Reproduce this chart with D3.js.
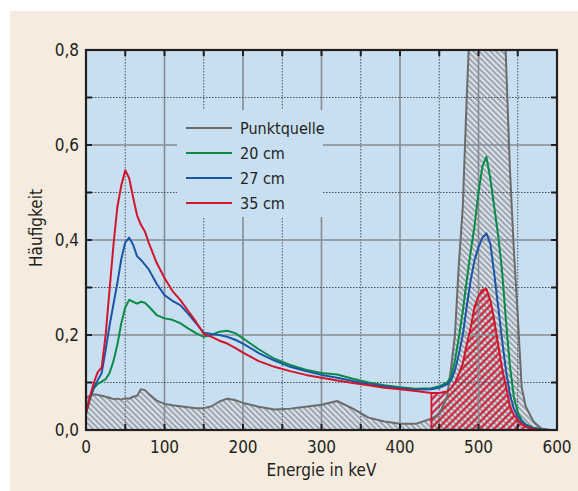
<!DOCTYPE html>
<html>
<head>
<meta charset="utf-8">
<script src="https://cdn.jsdelivr.net/npm/d3@7"></script>
<style>
  body { margin: 0; background: #fff; }
  svg text { font-family: "Liberation Sans Narrow", "DejaVu Sans Condensed", sans-serif; fill: #231f20; }
</style>
</head>
<body>
<svg id="chart" width="578" height="491"></svg>
<script>
// energy grid (keV) and read-off values
var energy = [0,5,10,15,20,25,30,35,40,45,50,55,60,65,70,75,80,90,100,110,120,130,140,150,160,170,180,190,200,220,240,260,280,300,320,340,360,380,400,420,440,450,460,465,470,475,480,485,490,495,500,505,510,515,520,525,530,535,540,545,550,555,560,570,580,590,600];

var punktquelle = [0.067,0.072,0.075,0.074,0.072,0.070,0.068,0.065,0.066,0.064,0.067,0.066,0.070,0.072,0.086,0.084,0.076,0.062,0.055,0.052,0.050,0.048,0.046,0.046,0.050,0.060,0.066,0.063,0.057,0.049,0.043,0.045,0.049,0.053,0.061,0.045,0.026,0.018,0.013,0.013,0.024,0.033,0.070,0.130,0.200,0.350,0.470,0.700,0.900,1.150,1.400,1.550,1.620,1.600,1.450,1.200,0.980,0.780,0.550,0.380,0.240,0.090,0.050,0.018,0.003,0,0];

var cm20 = [0.035,0.065,0.088,0.097,0.102,0.107,0.120,0.145,0.180,0.225,0.258,0.274,0.270,0.266,0.270,0.268,0.260,0.242,0.235,0.232,0.225,0.214,0.204,0.196,0.200,0.207,0.209,0.204,0.193,0.170,0.150,0.137,0.127,0.120,0.117,0.108,0.100,0.094,0.090,0.087,0.088,0.092,0.100,0.112,0.147,0.195,0.250,0.315,0.375,0.430,0.500,0.555,0.575,0.530,0.470,0.410,0.335,0.230,0.135,0.070,0.038,0.020,0.012,0.005,0.001,0,0];

var cm27 = [0.035,0.068,0.090,0.105,0.120,0.168,0.220,0.265,0.310,0.360,0.395,0.405,0.390,0.366,0.358,0.348,0.338,0.308,0.284,0.272,0.263,0.245,0.225,0.205,0.202,0.200,0.196,0.190,0.182,0.162,0.146,0.133,0.124,0.116,0.110,0.103,0.097,0.092,0.088,0.085,0.086,0.089,0.096,0.104,0.126,0.160,0.200,0.260,0.315,0.358,0.385,0.405,0.414,0.393,0.330,0.260,0.190,0.125,0.075,0.045,0.028,0.018,0.010,0.004,0.001,0,0];

var cm35 = [0.035,0.070,0.100,0.122,0.132,0.200,0.295,0.390,0.470,0.515,0.547,0.530,0.490,0.452,0.432,0.418,0.394,0.352,0.320,0.293,0.274,0.251,0.228,0.202,0.196,0.188,0.182,0.173,0.163,0.145,0.133,0.124,0.116,0.110,0.104,0.099,0.094,0.089,0.086,0.082,0.078,0.078,0.081,0.088,0.099,0.118,0.140,0.180,0.215,0.260,0.282,0.295,0.297,0.274,0.232,0.180,0.130,0.092,0.050,0.032,0.020,0.012,0.007,0.002,0,0,0];

var seriesNames = ["Punktquelle", "20 cm", "27 cm", "35 cm"];
var seriesColors = ["#6b6b6b", "#0b8a45", "#1b55a6", "#d1152b"];
var xTicks = [0, 100, 200, 300, 400, 500, 600];
var yTicks = [0, 0.2, 0.4, 0.6, 0.8];
var hatchStart = 440;

var svg = d3.select("#chart"),
    margin = {top: 50, right: 21, bottom: 61, left: 86},
    width = +svg.attr("width") - margin.left - margin.right,
    height = +svg.attr("height") - margin.top - margin.bottom;

// beige panel
svg.append("rect")
    .attr("x", 10).attr("y", 11)
    .attr("width", 568).attr("height", 480)
    .attr("fill", "#f5ebdf");

var defs = svg.append("defs");

var pg = defs.append("pattern")
    .attr("id", "hatchGray")
    .attr("patternUnits", "userSpaceOnUse")
    .attr("width", 4).attr("height", 4)
    .attr("patternTransform", "rotate(-45)");
pg.append("rect").attr("width", 4).attr("height", 4).attr("fill", "#dbe2ea");
pg.append("line").attr("x1", 1).attr("x2", 1).attr("y1", 0).attr("y2", 4)
    .attr("stroke", "#8d98a4").attr("stroke-width", 1.6);

var pr = defs.append("pattern")
    .attr("id", "hatchRed")
    .attr("patternUnits", "userSpaceOnUse")
    .attr("width", 5).attr("height", 5)
    .attr("patternTransform", "rotate(45)");
pr.append("line").attr("x1", 1.5).attr("x2", 1.5).attr("y1", 0).attr("y2", 5)
    .attr("stroke", "#d1152b").attr("stroke-width", 2.2);

defs.append("clipPath").attr("id", "plotClip")
  .append("rect").attr("width", width).attr("height", height);

var x = d3.scaleLinear().domain([0, 600]).range([0, width]);
var y = d3.scaleLinear().domain([0, 0.8]).range([height, 0]);

var g = svg.append("g")
    .attr("transform", "translate(" + margin.left + "," + margin.top + ")");

g.append("rect")
    .attr("width", width).attr("height", height)
    .attr("fill", "#c8dff2");

function toPoints(vals) {
  return energy.map(function(e, i) { return {e: e, v: vals[i]}; });
}

var plot = g.append("g").attr("clip-path", "url(#plotClip)");

var area = d3.area()
    .x(function(d) { return x(d.e); })
    .y0(height)
    .y1(function(d) { return y(d.v); });

var line = d3.line()
    .x(function(d) { return x(d.e); })
    .y(function(d) { return y(d.v); });

// gray hatched area under the point source
plot.append("path")
    .datum(toPoints(punktquelle))
    .attr("fill", "url(#hatchGray)")
    .attr("d", area);

// red hatched window from 440 keV
var redPts = toPoints(cm35).filter(function(d) { return d.e >= hatchStart; });
plot.append("path")
    .datum(redPts)
    .attr("fill", "url(#hatchRed)")
    .attr("d", area);

// grid
var grid = plot.append("g");
d3.range(50, 600, 50).forEach(function(e) {
  var major = e % 100 === 0;
  grid.append("line")
      .attr("x1", x(e)).attr("x2", x(e))
      .attr("y1", 0).attr("y2", height)
      .attr("stroke", major ? "#858b91" : "#4a4f55")
      .attr("stroke-width", major ? 1.6 : 1)
      .attr("stroke-dasharray", major ? null : "1.5,1.5");
});
d3.range(1, 8).forEach(function(k) {
  var v = k / 10, major = k % 2 === 0;
  grid.append("line")
      .attr("x1", 0).attr("x2", width)
      .attr("y1", y(v)).attr("y2", y(v))
      .attr("stroke", major ? "#858b91" : "#4a4f55")
      .attr("stroke-width", major ? 1.6 : 1)
      .attr("stroke-dasharray", major ? null : "1.5,1.5");
});

// legend background hides the grid
g.append("rect")
    .attr("x", 91).attr("y", 60)
    .attr("width", 146).attr("height", 107)
    .attr("fill", "#c8dff2");

// curves
var allSeries = [punktquelle, cm20, cm27, cm35];
allSeries.forEach(function(vals, i) {
  plot.append("path")
      .datum(toPoints(vals))
      .attr("fill", "none")
      .attr("stroke", seriesColors[i])
      .attr("stroke-width", 2)
      .attr("stroke-linejoin", "round")
      .attr("d", line);
});

// left edge of red window
plot.append("line")
    .attr("x1", x(hatchStart)).attr("x2", x(hatchStart))
    .attr("y1", y(0)).attr("y2", y(redPts[0].v))
    .attr("stroke", "#d1152b").attr("stroke-width", 1.8);

// legend
var legend = g.append("g").attr("transform", "translate(100,78)");
seriesNames.forEach(function(name, i) {
  var row = legend.append("g").attr("transform", "translate(0," + (i * 25) + ")");
  row.append("line")
      .attr("x1", 0).attr("x2", 46)
      .attr("stroke", seriesColors[i]).attr("stroke-width", 2);
  row.append("text")
      .attr("x", 54).attr("dy", "0.35em")
      .style("font-size", "16px")
      .text(name);
});

// frame and inward ticks
var frame = g.append("g");
d3.range(50, 600, 50).forEach(function(e) {
  frame.append("line").attr("x1", x(e)).attr("x2", x(e)).attr("y1", height).attr("y2", height - 6)
      .attr("stroke", "#231f20").attr("stroke-width", 2);
  frame.append("line").attr("x1", x(e)).attr("x2", x(e)).attr("y1", 0).attr("y2", 6)
      .attr("stroke", "#231f20").attr("stroke-width", 2);
});
d3.range(1, 8).forEach(function(k) {
  var v = k / 10;
  frame.append("line").attr("x1", 0).attr("x2", 6).attr("y1", y(v)).attr("y2", y(v))
      .attr("stroke", "#231f20").attr("stroke-width", 2);
  frame.append("line").attr("x1", width).attr("x2", width - 6).attr("y1", y(v)).attr("y2", y(v))
      .attr("stroke", "#231f20").attr("stroke-width", 2);
});
frame.append("rect")
    .attr("width", width).attr("height", height)
    .attr("fill", "none").attr("stroke", "#231f20").attr("stroke-width", 2.2);

// tick labels
var fmt = function(v) { return d3.format(".1f")(v).replace(".", ","); };
g.selectAll(".ytick").data(yTicks).enter().append("text")
    .attr("x", -7).attr("y", function(d) { return y(d); })
    .attr("dy", "0.35em")
    .attr("text-anchor", "end")
    .style("font-size", "17px")
    .text(fmt);
g.selectAll(".xtick").data(xTicks).enter().append("text")
    .attr("x", function(d) { return x(d); }).attr("y", height + 23)
    .attr("text-anchor", "middle")
    .style("font-size", "17px")
    .text(function(d) { return d; });

// axis titles
svg.append("text")
    .attr("x", margin.left + width / 2).attr("y", 476)
    .attr("text-anchor", "middle")
    .style("font-size", "17px")
    .text("Energie in keV");
svg.append("text")
    .attr("transform", "translate(42,228) rotate(-90)")
    .attr("text-anchor", "middle")
    .style("font-size", "17px")
    .text("Häufigkeit");
</script>
</body>
</html>
